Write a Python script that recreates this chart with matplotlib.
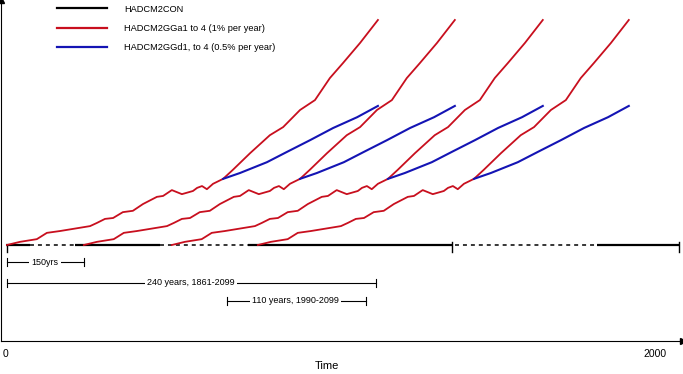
import numpy as np
import matplotlib
matplotlib.use("Agg")
import matplotlib.pyplot as plt

plt.rcParams['font.family'] = ['Liberation Sans', 'DejaVu Sans']

# shape of one 1% per year run: time since branch start, anomaly
ga_t = np.array([0, 40, 92, 123, 163, 256, 277, 302, 327, 357, 388, 419, 462, 481,
                 508, 539, 573, 586, 601, 616, 635, 666, 696, 749, 810, 851, 903,
                 949, 995, 1035, 1088, 1143])
ga_v = np.array([0, .07, .13, .27, .31, .42, .49, .58, .60, .73, .76, .91, 1.07, 1.09,
                 1.22, 1.13, 1.20, 1.27, 1.31, 1.24, 1.36, 1.47, 1.67, 2.04, 2.44, 2.62,
                 3.00, 3.22, 3.71, 4.04, 4.49, 5.00])

# 0.5% per year run, branching off the 1% run
gd_t = np.array([666, 718, 801, 863, 934, 1005, 1079, 1143])
gd_v = np.array([1.47, 1.60, 1.84, 2.07, 2.33, 2.60, 2.84, 3.09])

# start times of the four ensemble members
starts = [3, 240, 511, 776]

# control run pieces (start, end, solid?)
con_start = [0, 74, 213, 475, 746, 1384, 1821]
con_end = [74, 213, 475, 746, 1374, 1821, 2077]
con_solid = [True, False, True, False, True, False, True]
con_ticks = [3, 1374, 2074]

# scale bars: from, to, height, label
bar_from = [3, 3, 681]
bar_to = [240, 1140, 1109]
bar_y = [-0.378, -0.844, -1.244]
bar_text = ['150yrs', '240 years, 1861-2099', '110 years, 1990-2099']
bar_text_x = [120, 570, 891]

red = '#c80f1e'
blue = '#1414b4'

fig = plt.figure(figsize=(6.83, 3.74), dpi=100)
ax = fig.add_axes([1 / 683, 33 / 374, 682 / 683, 341 / 374])

# control
for s, e, solid in zip(con_start, con_end, con_solid):
    if solid:
        ax.plot([s, e], [0, 0], color='black', lw=1.6, solid_capstyle='butt')
    else:
        ax.plot([s, e], [0, 0], color='black', lw=1.1, dashes=(2.6, 2.6))
ax.plot([con_ticks[0]] * 2, [0, -0.16], color='black', lw=1)
for t in con_ticks[1:]:
    ax.plot([t, t], [0.07, -0.16], color='black', lw=1)

for s in starts:
    ax.plot(ga_t + s, ga_v, color=red, lw=1.3)
    ax.plot(gd_t + s, gd_v, color=blue, lw=1.5)

# scale bars
for x0, x1, y, txt, tx in zip(bar_from, bar_to, bar_y, bar_text, bar_text_x):
    ax.plot([x0, x1], [y, y], color='black', lw=0.8)
    ax.plot([x0, x0], [y - 0.08, y + 0.08], color='black', lw=0.8)
    ax.plot([x1, x1], [y - 0.08, y + 0.08], color='black', lw=0.8)
    ax.text(tx, y, txt, ha='center', va='center', fontsize=6.5,
            bbox=dict(facecolor='white', edgecolor='none', pad=1.5))

# legend
h1, = ax.plot([], [], color='black', lw=1.6)
h2, = ax.plot([], [], color=red, lw=1.6)
h3, = ax.plot([], [], color=blue, lw=1.6)
ax.legend([h1, h2, h3],
          ['HADCM2CON', 'HADCM2GGa1 to 4 (1% per year)', 'HADCM2GGd1, to 4 (0.5% per year)'],
          loc='upper left', bbox_to_anchor=(48 / 682, 1.011), frameon=False,
          fontsize=6.7, handlelength=5.3, handletextpad=1.9, labelspacing=1.1)

ax.set_xlim(-15.4, 2086)
ax.set_ylim(-2.133, 5.444)
ax.spines['top'].set_visible(False)
ax.spines['right'].set_visible(False)
ax.set_yticks([])
ax.set_xticks([0, 2000])
ax.set_xticklabels(['0', '2000'], fontsize=7.5)
ax.tick_params(axis='x', length=0, pad=6)
ax.set_xlabel('Time', fontsize=8, labelpad=2)
ax.xaxis.set_label_coords(326 / 682, -0.06)

# axis arrows
ax.plot(1, 0, '>k', ms=5, transform=ax.transAxes, clip_on=False)
ax.plot(0, 1, '^k', ms=5, transform=ax.transAxes, clip_on=False)

fig.savefig('out.png', dpi=100)
